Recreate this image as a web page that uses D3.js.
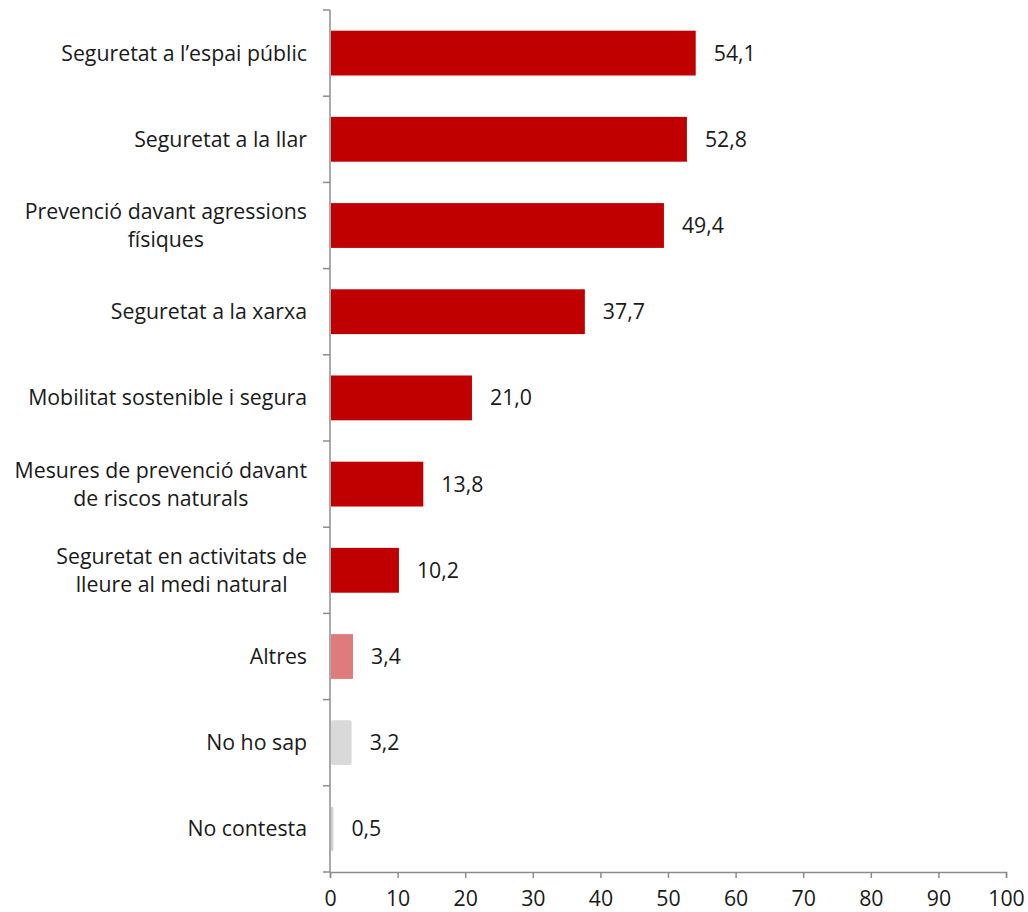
<!DOCTYPE html>
<html>
<head>
<meta charset="utf-8">
<script src="https://cdn.jsdelivr.net/npm/d3@7/dist/d3.min.js"></script>
<style>
  html, body { margin: 0; padding: 0; background: #fff; }
  svg { display: block; font-family: "Open Sans", sans-serif; }
</style>
</head>
<body>
<svg id="chart" width="1028" height="912"></svg>
<script>
// Categories (each entry is a list of label lines)
const categories = [
  ["Seguretat a l\u2019espai públic"],
  ["Seguretat a la llar"],
  ["Prevenció davant agressions", "físiques"],
  ["Seguretat a la xarxa"],
  ["Mobilitat sostenible i segura"],
  ["Mesures de prevenció davant", "de riscos naturals"],
  ["Seguretat en activitats de", "lleure al medi natural"],
  ["Altres"],
  ["No ho sap"],
  ["No contesta"]
];
const values = [54.1, 52.8, 49.4, 37.7, 21.0, 13.8, 10.2, 3.4, 3.2, 0.5];
const barColors = ["#c00000", "#c00000", "#c00000", "#c00000", "#c00000", "#c00000", "#c00000", "#e07b7b", "#d9d9d9", "#d0d0d0"];
const xTicks = [0, 10, 20, 30, 40, 50, 60, 70, 80, 90, 100];

const svg = d3.select("#chart");
const margin = { left: 330, top: 10 };
const plotRight = 1006;
const plotBottom = 872;
const fontSize = 21.3;

const x = d3.scaleLinear().domain([0, 100]).range([margin.left, plotRight]);
const y = d3.scaleBand()
  .domain(d3.range(categories.length))
  .range([margin.top, plotBottom])
  .paddingInner(0.48)
  .paddingOuter(0.24);

const fmt = v => v.toFixed(1).replace(".", ",");

// Bars
svg.append("g")
  .selectAll("rect")
  .data(values)
  .join("rect")
  .attr("x", x(0) + 1)
  .attr("y", (d, i) => y(i))
  .attr("width", d => Math.max(0, x(d) - x(0) - 1))
  .attr("height", y.bandwidth())
  .attr("rx", (d, i) => i >= 8 ? 2 : 0)
  .attr("fill", (d, i) => barColors[i]);

// Value labels
svg.append("g")
  .selectAll("text")
  .data(values)
  .join("text")
  .attr("x", d => x(d) + 18)
  .attr("y", (d, i) => y(i) + y.bandwidth() / 2)
  .attr("dy", "0.35em")
  .attr("font-size", fontSize)
  .attr("fill", "#1a1a1a")
  .text(fmt);

// Y axis line with ticks at band boundaries
const axisColor = "#8c8c8c";
const bounds = d3.range(categories.length + 1).map(i => margin.top + i * (plotBottom - margin.top) / categories.length);
const gy = svg.append("g");
gy.append("line")
  .attr("x1", x(0)).attr("x2", x(0))
  .attr("y1", margin.top).attr("y2", plotBottom)
  .attr("stroke", axisColor).attr("stroke-width", 1.5);
gy.selectAll("line.tick")
  .data(bounds)
  .join("line")
  .attr("class", "tick")
  .attr("x1", x(0) - 7).attr("x2", x(0))
  .attr("y1", d => d).attr("y2", d => d)
  .attr("stroke", axisColor).attr("stroke-width", 1.5);

// Category labels: block right-aligned to the axis, lines centred within the block
const lineH = 28;
const labelRight = 307;
svg.append("g")
  .selectAll("text")
  .data(categories)
  .join("text")
  .attr("font-size", fontSize)
  .attr("fill", "#1a1a1a")
  .each(function (lines, i) {
    const cy = y(i) + y.bandwidth() / 2;
    const t = d3.select(this);
    const spans = lines.map((ln, k) => t.append("tspan")
      .attr("y", cy + (k - (lines.length - 1) / 2) * lineH)
      .attr("dy", "0.35em")
      .text(ln));
    const maxW = d3.max(spans, s => s.node().getComputedTextLength());
    const cx = labelRight - maxW / 2;
    spans.forEach(s => s.attr("x", cx).attr("text-anchor", "middle"));
  });

// X axis
const gx = svg.append("g")
  .attr("transform", `translate(0,${plotBottom})`)
  .call(d3.axisBottom(x).tickValues(xTicks).tickSize(6).tickPadding(13).tickFormat(d3.format("d")));
gx.select(".domain").attr("stroke", axisColor).attr("stroke-width", 1.5);
gx.selectAll(".tick line").attr("stroke", axisColor).attr("stroke-width", 1.5);
gx.selectAll(".tick text")
  .attr("font-size", fontSize)
  .attr("font-family", "'Open Sans', sans-serif")
  .attr("fill", "#1a1a1a");
</script>
</body>
</html>
